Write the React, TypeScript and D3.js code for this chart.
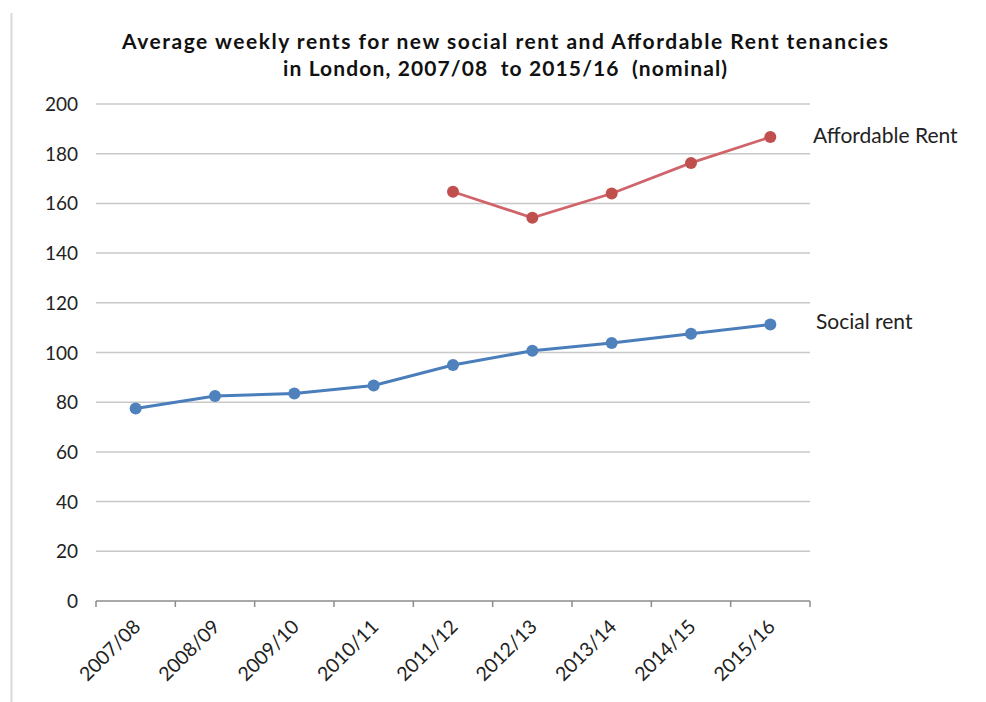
import React from "react";
import * as d3 from "d3";

const years = ["2007/08", "2008/09", "2009/10", "2010/11", "2011/12", "2012/13", "2013/14", "2014/15", "2015/16"];
const socialRent = [77.5, 82.5, 83.5, 86.7, 95, 100.7, 103.8, 107.5, 111.3];
const affordableYears = ["2011/12", "2012/13", "2013/14", "2014/15", "2015/16"];
const affordableRent = [164.7, 154.2, 164, 176.3, 186.7];
const yTicks = [0, 20, 40, 60, 80, 100, 120, 140, 160, 180, 200];
const titleLines = [
  "Average weekly rents for new social rent and Affordable Rent tenancies",
  "in London, 2007/08  to 2015/16  (nominal)",
];

const W = 986;
const H = 702;
const left = 96;
const right = 810;
const top = 104;
const bottom = 601;

export default function App() {
  const x = d3.scaleBand<string>().domain(years).range([left, right]);
  const y = d3.scaleLinear().domain([0, 200]).range([bottom, top]);
  const cx = (d: string) => (x(d) as number) + x.bandwidth() / 2;

  const socialPts = years.map((d, i) => [cx(d), y(socialRent[i])] as [number, number]);
  const affPts = affordableYears.map((d, i) => [cx(d), y(affordableRent[i])] as [number, number]);
  const line = d3.line();

  const font = "Lato, 'Open Sans', sans-serif";
  const boundaries = years.map((d) => x(d) as number).concat([right]);

  return (
    <svg width={W} height={H} style={{ position: "absolute", left: 0, top: 0, background: "#fff" }}>
      <line x1={11.5} x2={11.5} y1={13} y2={H} stroke="#d9d9d9" strokeWidth={2} />

      {titleLines.map((t, i) => (
        <text
          key={i}
          x={505}
          y={48.5 + i * 27}
          textAnchor="middle"
          fontFamily={font}
          fontWeight="bold"
          fontSize={21}
          fill="#111"
          textLength={i === 0 ? 766 : 444}
          lengthAdjust="spacing"
          style={{ whiteSpace: "pre" }}
        >
          {t}
        </text>
      ))}

      {yTicks.filter((v) => v > 0).map((v) => (
        <line key={v} x1={left} x2={right} y1={y(v)} y2={y(v)} stroke="#c8c8c8" strokeWidth={1.5} />
      ))}
      {yTicks.map((v) => (
        <text key={v} x={78} y={y(v) + 7} textAnchor="end" fontFamily={font} fontSize={19} fill="#222">
          {v}
        </text>
      ))}

      <line x1={left} x2={right} y1={bottom} y2={bottom} stroke="#8c8c8c" strokeWidth={1.5} />
      {boundaries.map((bx, i) => (
        <line key={i} x1={bx} x2={bx} y1={bottom} y2={bottom + 6} stroke="#8c8c8c" strokeWidth={1.5} />
      ))}
      {years.map((d) => (
        <text
          key={d}
          transform={`translate(${cx(d) + 6},${bottom + 27}) rotate(-45)`}
          textAnchor="end"
          fontFamily={font}
          fontSize={19.5}
          fill="#222"
        >
          {d}
        </text>
      ))}

      <path d={line(affPts) || ""} fill="none" stroke="#d0646a" strokeWidth={2.75} />
      {affPts.map((p, i) => (
        <circle key={i} cx={p[0]} cy={p[1]} r={6} fill="#c0504d" />
      ))}
      <path d={line(socialPts) || ""} fill="none" stroke="#4a7ebb" strokeWidth={3} />
      {socialPts.map((p, i) => (
        <circle key={i} cx={p[0]} cy={p[1]} r={6} fill="#4f81bd" />
      ))}

      <text x={813} y={143} fontFamily={font} fontSize={21} fill="#222">Affordable Rent</text>
      <text x={816} y={329} fontFamily={font} fontSize={21} fill="#222">Social rent</text>
    </svg>
  );
}
